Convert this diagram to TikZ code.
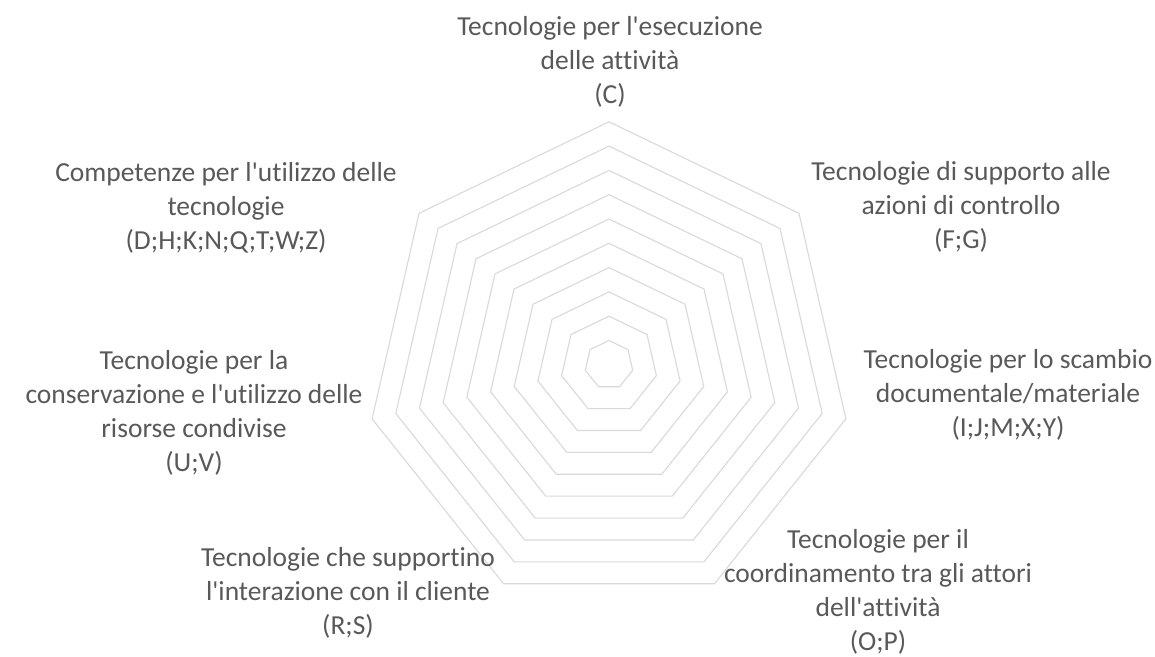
\documentclass[tikz,border=0pt]{standalone}
\usepackage{fontspec}
\newfontfamily\labfont{Carlito}[Ligatures=NoCommon]
\usetikzlibrary{calc}
\definecolor{gridc}{HTML}{D9D9D9}
\definecolor{labc}{HTML}{595959}
\begin{document}
\begin{tikzpicture}[x=1pt,y=-1pt,
  ring/.style={draw=gridc,line width=1.1pt,line join=miter},
  cat/.style={text=labc,align=center,inner sep=0pt,font=\labfont\fontsize{27.5}{33.8}\selectfont}]
\useasboundingbox[fill=white] (0,0) rectangle (1155,656);
\coordinate (O) at (609,364.8);
\foreach \k in {1,...,10}{
  \pgfmathsetmacro{\r}{24.3*\k}
  \draw[ring] ($(O)+(-90:\r)$) \foreach \j in {1,...,6}{ -- ($(O)+({-90+\j*360/7}:\r)$) } -- cycle;
}
\node[cat] (c1) at (610,62) {Tecnologie per l'esecuzione\\delle attività\\(C)};
\node[cat] (c2) at (961,207) {Tecnologie di supporto alle\\azioni di controllo\\(F;G)};
\node[cat] (c3) at (1008,395) {Tecnologie per lo scambio\\documentale/materiale\\(I;J;M;X;Y)};
\node[cat] (c4) at (878,592) {Tecnologie per il\\coordinamento tra gli attori\\dell'attività\\(O;P)};
\node[cat] (c5) at (348,593) {Tecnologie che supportino\\l'interazione con il cliente\\(R;S)};
\node[cat] (c6) at (194,413) {Tecnologie per la\\conservazione e l'utilizzo delle\\risorse condivise\\(U;V)};
\node[cat] (c7) at (226,208) {Competenze per l'utilizzo delle\\tecnologie\\(D;H;K;N;Q;T;W;Z)};
\end{tikzpicture}
\end{document}
